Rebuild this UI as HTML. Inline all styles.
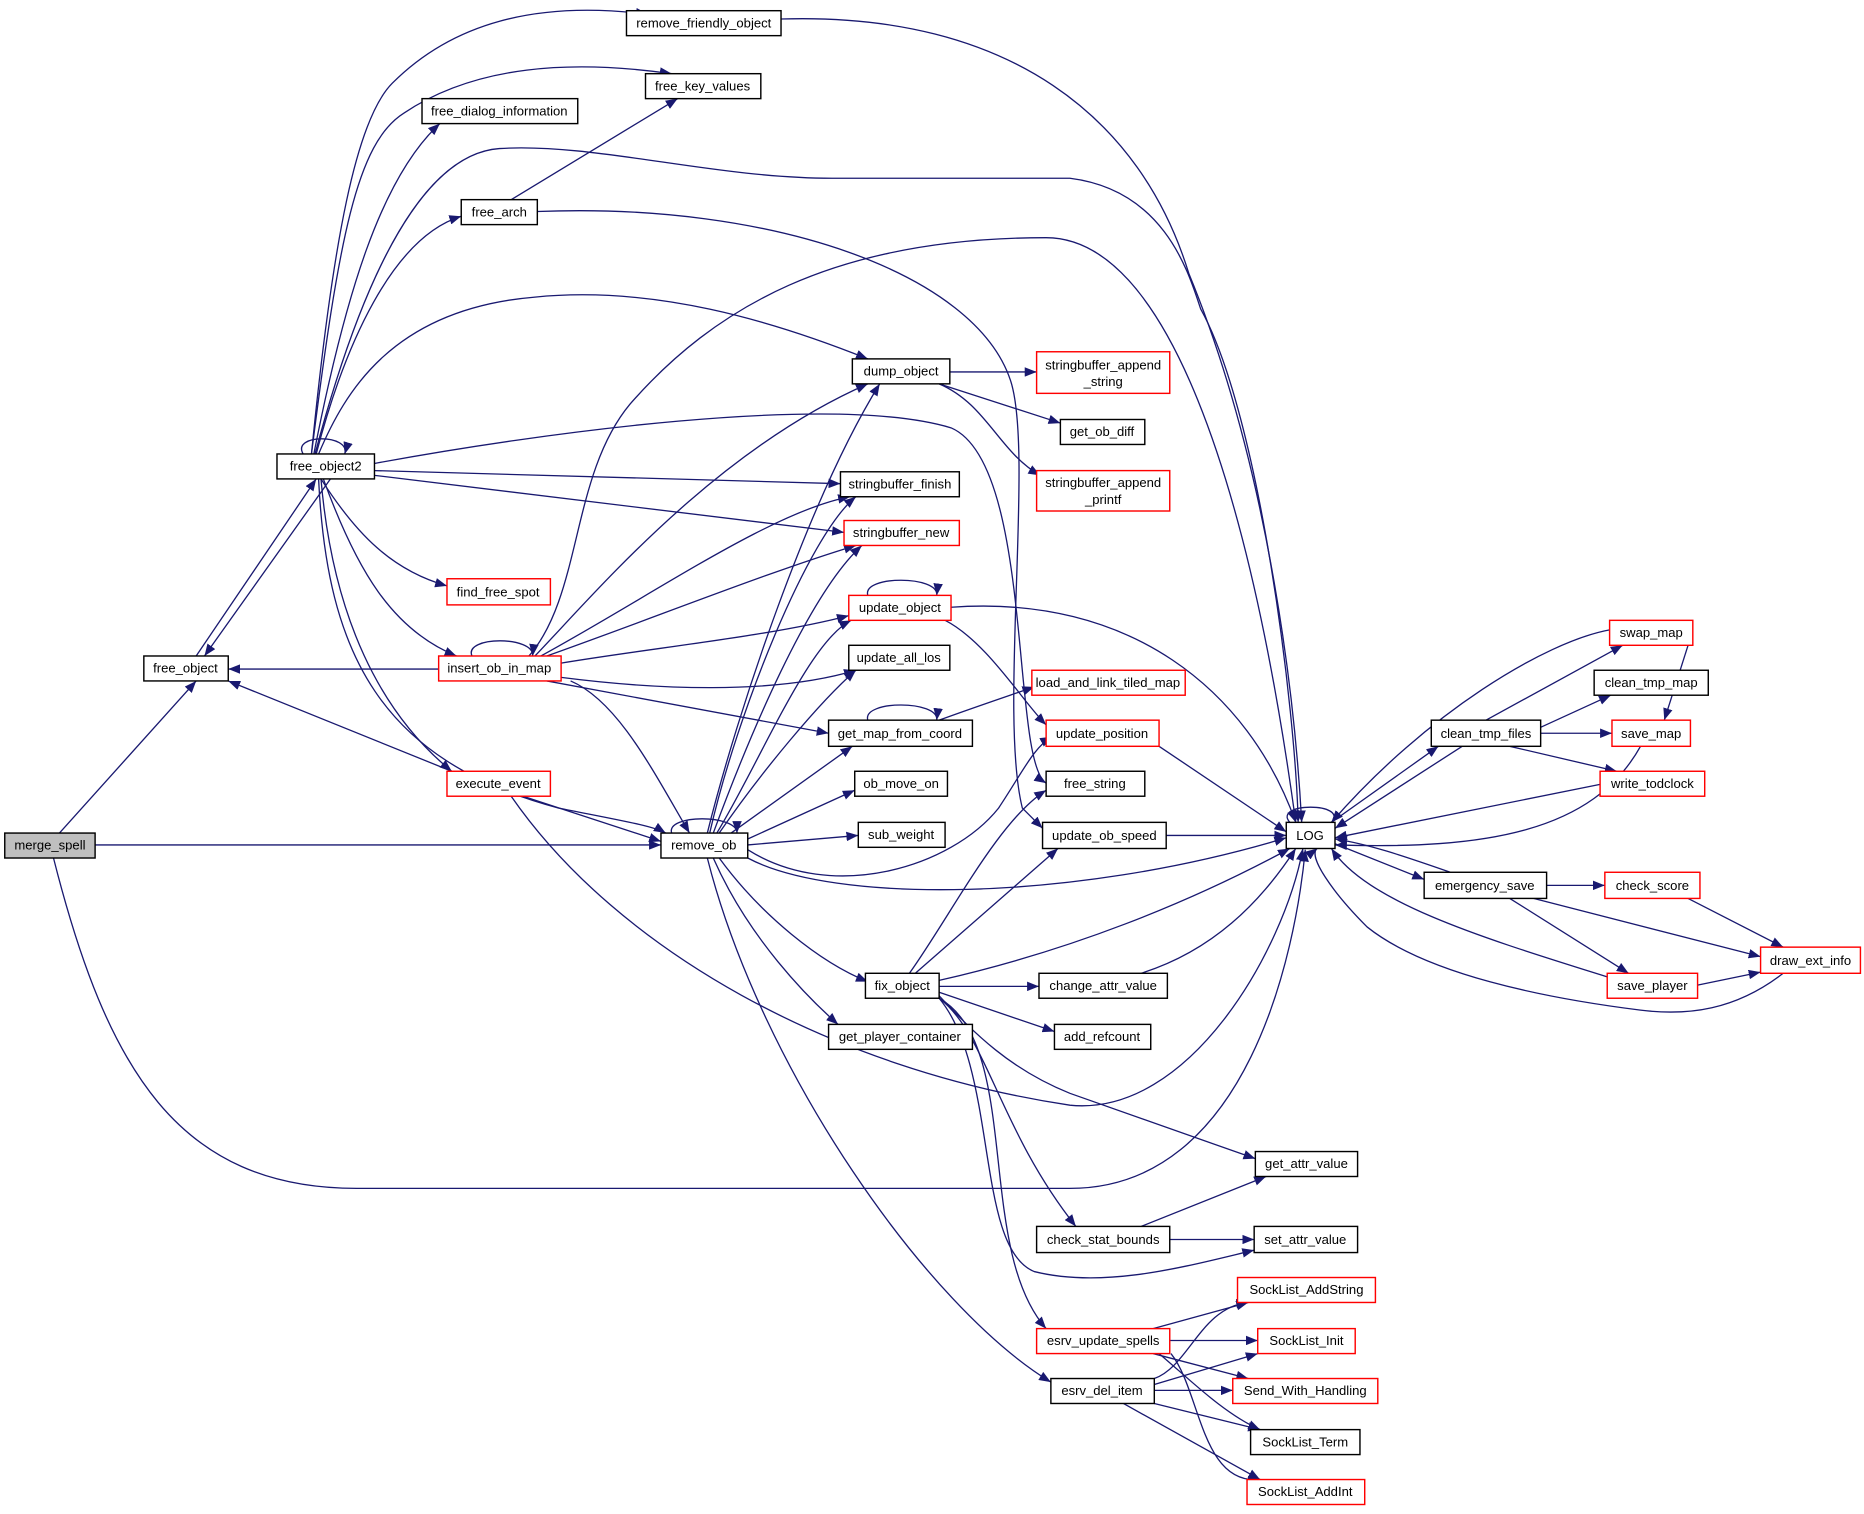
<!DOCTYPE html>
<html><head><meta charset="utf-8"><style>
html,body{margin:0;padding:0;background:#fff}
svg{display:block}
text{font-family:"Liberation Sans",sans-serif;font-size:11px;fill:#000}
</style></head><body>
<svg width="1864" height="1514" viewBox="0 0 1568 1274" preserveAspectRatio="none" xmlns="http://www.w3.org/2000/svg">
<defs><marker id="a" markerWidth="10" markerHeight="8" refX="10" refY="4" orient="auto" markerUnits="userSpaceOnUse"><path d="M0,0 L10,4 L0,8 z" fill="#191970"/></marker></defs>
<g fill="none" stroke="#191970" stroke-width="1.1" marker-end="url(#a)">
<path d="M50,701 L165,573"/>
<path d="M80,711 L556,711"/>
<path d="M45,722 C90,900 150,1000 300,1000 L900,1000 C1050,1000 1090,800 1098,715"/>
<path d="M165,552 L266,403"/>
<path d="M278,403 L172,552"/>
<path d="M369,563 L192,563"/>
<path d="M380,649 L192,573"/>
<path d="M262,382 C280,200 300,100 330,70 C380,20 450,0 545,12"/>
<path d="M262,382 C285,200 300,120 340,95 C400,55 480,50 565,62"/>
<path d="M264,382 C290,250 320,150 370,104"/>
<path d="M265,382 C300,250 350,130 420,125 C500,120 600,150 700,150 L900,150 C980,160 1000,230 1010,260 C1060,350 1090,600 1092,692"/>
<path d="M266,382 C290,290 330,200 388,182"/>
<path d="M268,382 C290,330 330,260 450,250 C550,240 650,270 730,302"/>
<path d="M315,390 C450,365 700,330 800,360 C870,390 850,640 880,659"/>
<path d="M315,396 L707,407"/>
<path d="M315,400 L710,448"/>
<path d="M270,403 C300,450 330,480 376,493"/>
<path d="M272,403 C300,480 330,530 384,552"/>
<path d="M270,403 C280,520 320,600 380,649"/>
<path d="M268,403 C275,550 320,640 470,680 C520,690 550,695 560,701"/>
<path d="M255,382 C245,365 295,365 290,382"/>
<path d="M397,552 C390,535 450,535 448,552"/>
<path d="M445,552 C490,500 480,400 530,340 C600,260 700,200 880,200 C980,200 1050,400 1090,692"/>
<path d="M450,552 C500,500 600,380 730,323"/>
<path d="M455,552 C550,500 650,430 715,418"/>
<path d="M460,552 C550,520 650,480 720,459"/>
<path d="M472,558 C550,545 650,535 714,518"/>
<path d="M472,570 C550,580 650,585 720,564"/>
<path d="M460,573 L697,617"/>
<path d="M480,573 C520,590 550,650 580,701"/>
<path d="M565,701 C560,685 620,685 620,701"/>
<path d="M440,670 L556,708"/>
<path d="M430,670 C520,800 700,900 900,930 C1000,940 1080,800 1096,714"/>
<path d="M595,701 C620,600 680,420 740,323"/>
<path d="M597,701 C620,600 680,450 720,418"/>
<path d="M600,701 C630,620 680,500 725,459"/>
<path d="M603,701 C640,640 680,540 716,522"/>
<path d="M605,701 C640,650 690,590 720,564"/>
<path d="M615,701 L717,628"/>
<path d="M629,706 L719,665"/>
<path d="M629,711 L722,703"/>
<path d="M629,715 C700,760 800,730 840,680 C860,650 870,628 885,620"/>
<path d="M629,722 C700,760 900,760 1082,705"/>
<path d="M605,722 C640,770 690,810 730,826"/>
<path d="M600,722 C630,790 680,840 705,862"/>
<path d="M595,722 C640,900 780,1100 884,1163"/>
<path d="M730,501 C725,484 790,484 788,501"/>
<path d="M800,511 C950,500 1050,580 1090,692"/>
<path d="M795,522 C830,540 860,590 880,610"/>
<path d="M730,606 C725,589 790,589 788,606"/>
<path d="M790,606 C820,595 850,585 870,578"/>
<path d="M799,313 L872,313"/>
<path d="M790,323 L892,356"/>
<path d="M790,323 C830,340 840,380 875,400"/>
<path d="M430,168 L570,83"/>
<path d="M452,178 C650,170 820,230 850,320 C870,380 840,600 860,680 L877,697"/>
<path d="M657,16 C850,10 960,100 1000,230 C1070,400 1090,600 1095,692"/>
<path d="M975,628 L1082,700"/>
<path d="M981,703 L1082,703"/>
<path d="M770,819 L890,714"/>
<path d="M765,819 C800,770 840,690 880,665"/>
<path d="M790,825 C900,800 1000,760 1085,714"/>
<path d="M790,830 L874,830"/>
<path d="M790,835 L887,868"/>
<path d="M790,838 C820,870 850,900 900,920 L1056,975"/>
<path d="M790,840 C830,870 840,950 905,1032"/>
<path d="M790,840 C840,900 820,1050 870,1070 C930,1085 1000,1065 1055,1052"/>
<path d="M790,840 C860,880 820,1050 880,1118"/>
<path d="M960,819 C1020,800 1060,760 1090,714"/>
<path d="M960,1032 L1065,990"/>
<path d="M984,1043 L1055,1043"/>
<path d="M970,1118 L1050,1096"/>
<path d="M984,1128 L1058,1128"/>
<path d="M970,1139 L1050,1160"/>
<path d="M975,1139 C1000,1160 1030,1190 1060,1203"/>
<path d="M985,1139 C1010,1170 1010,1250 1060,1245"/>
<path d="M971,1160 C1000,1150 1010,1100 1050,1096"/>
<path d="M971,1165 L1058,1139"/>
<path d="M971,1170 L1037,1170"/>
<path d="M971,1181 L1060,1203"/>
<path d="M945,1181 L1060,1245"/>
<path d="M1085,692 C1070,675 1135,675 1120,692"/>
<path d="M1123,710 L1198,740"/>
<path d="M1220,734 C1180,720 1150,710 1123,706"/>
<path d="M1301,745 L1350,745"/>
<path d="M1290,756 L1481,805"/>
<path d="M1270,756 L1370,819"/>
<path d="M1420,756 L1500,797"/>
<path d="M1428,829 L1481,818"/>
<path d="M1352,822 C1250,790 1150,760 1120,714"/>
<path d="M1500,819 C1460,850 1420,855 1380,850 C1300,840 1200,820 1150,780 C1120,750 1100,720 1108,714"/>
<path d="M1120,692 L1210,628"/>
<path d="M1230,628 L1123,697"/>
<path d="M1250,606 L1365,543"/>
<path d="M1296,612 L1355,585"/>
<path d="M1296,617 L1356,617"/>
<path d="M1270,628 L1360,649"/>
<path d="M1354,530 C1300,540 1200,600 1120,692"/>
<path d="M1420,543 L1400,606"/>
<path d="M1346,660 L1123,705"/>
<path d="M1380,628 C1340,700 1250,715 1123,711"/>
</g>
<g stroke-width="1.2" text-anchor="middle">
<g stroke="#000" fill="#fff">
<rect x="4" y="701" width="76" height="21" fill="#bfbfbf"/>
<rect x="121" y="552" width="71" height="21"/>
<rect x="233" y="382" width="82" height="21"/>
<rect x="527" y="9" width="130" height="21"/>
<rect x="543" y="62" width="97" height="21"/>
<rect x="355" y="83" width="131" height="21"/>
<rect x="388" y="168" width="64" height="21"/>
<rect x="556" y="701" width="73" height="21"/>
<rect x="717" y="302" width="82" height="21"/>
<rect x="707" y="397" width="100" height="21"/>
<rect x="714" y="543" width="85" height="21"/>
<rect x="697" y="606" width="121" height="22"/>
<rect x="719" y="649" width="78" height="21"/>
<rect x="722" y="692" width="73" height="21"/>
<rect x="728" y="819" width="62" height="21"/>
<rect x="697" y="862" width="121" height="21"/>
<rect x="884" y="1160" width="87" height="21"/>
<rect x="892" y="353" width="71" height="21"/>
<rect x="880" y="649" width="83" height="21"/>
<rect x="877" y="692" width="104" height="22"/>
<rect x="874" y="819" width="108" height="21"/>
<rect x="887" y="862" width="81" height="21"/>
<rect x="1056" y="969" width="86" height="21"/>
<rect x="872" y="1032" width="112" height="22"/>
<rect x="1055" y="1032" width="87" height="22"/>
<rect x="1052" y="1203" width="92" height="21"/>
<rect x="1082" y="692" width="41" height="22"/>
<rect x="1198" y="734" width="103" height="22"/>
<rect x="1341" y="564" width="96" height="21"/>
<rect x="1204" y="606" width="92" height="22"/>
</g>
<g stroke="#f00" fill="#fff">
<rect x="376" y="487" width="87" height="22"/>
<rect x="369" y="552" width="103" height="21"/>
<rect x="376" y="649" width="87" height="21"/>
<rect x="710" y="438" width="97" height="21"/>
<rect x="714" y="501" width="86" height="21"/>
<rect x="872" y="296" width="112" height="35"/>
<rect x="872" y="396" width="112" height="34"/>
<rect x="868" y="564" width="129" height="21"/>
<rect x="880" y="606" width="95" height="22"/>
<rect x="872" y="1118" width="112" height="21"/>
<rect x="1041" y="1075" width="116" height="21"/>
<rect x="1058" y="1118" width="82" height="21"/>
<rect x="1037" y="1160" width="122" height="21"/>
<rect x="1049" y="1245" width="99" height="21"/>
<rect x="1350" y="734" width="80" height="22"/>
<rect x="1481" y="797" width="84" height="22"/>
<rect x="1352" y="819" width="76" height="21"/>
<rect x="1354" y="522" width="70" height="21"/>
<rect x="1356" y="606" width="66" height="22"/>
<rect x="1346" y="649" width="88" height="21"/>
</g>
<text x="42" y="715">merge_spell</text>
<text x="156" y="566">free_object</text>
<text x="274" y="396">free_object2</text>
<text x="592" y="23">remove_friendly_object</text>
<text x="591" y="76">free_key_values</text>
<text x="420" y="97">free_dialog_information</text>
<text x="420" y="182">free_arch</text>
<text x="592" y="715">remove_ob</text>
<text x="758" y="316">dump_object</text>
<text x="757" y="411">stringbuffer_finish</text>
<text x="756" y="557">update_all_los</text>
<text x="757" y="621">get_map_from_coord</text>
<text x="758" y="663">ob_move_on</text>
<text x="758" y="706">sub_weight</text>
<text x="759" y="833">fix_object</text>
<text x="757" y="876">get_player_container</text>
<text x="927" y="1174">esrv_del_item</text>
<text x="927" y="367">get_ob_diff</text>
<text x="921" y="663">free_string</text>
<text x="929" y="707">update_ob_speed</text>
<text x="928" y="833">change_attr_value</text>
<text x="927" y="876">add_refcount</text>
<text x="1099" y="983">get_attr_value</text>
<text x="928" y="1047">check_stat_bounds</text>
<text x="1098" y="1047">set_attr_value</text>
<text x="1098" y="1217">SockList_Term</text>
<text x="1102" y="707">LOG</text>
<text x="1249" y="749">emergency_save</text>
<text x="1389" y="578">clean_tmp_map</text>
<text x="1250" y="621">clean_tmp_files</text>
<text x="419" y="502">find_free_spot</text>
<text x="420" y="566">insert_ob_in_map</text>
<text x="419" y="663">execute_event</text>
<text x="758" y="452">stringbuffer_new</text>
<text x="757" y="515">update_object</text>
<text x="928" y="311">stringbuffer_append</text>
<text x="928" y="325">_string</text>
<text x="928" y="410">stringbuffer_append</text>
<text x="928" y="424">_printf</text>
<text x="932" y="578">load_and_link_tiled_map</text>
<text x="927" y="621">update_position</text>
<text x="928" y="1132">esrv_update_spells</text>
<text x="1099" y="1089">SockList_AddString</text>
<text x="1099" y="1132">SockList_Init</text>
<text x="1098" y="1174">Send_With_Handling</text>
<text x="1098" y="1259">SockList_AddInt</text>
<text x="1390" y="749">check_score</text>
<text x="1523" y="812">draw_ext_info</text>
<text x="1390" y="833">save_player</text>
<text x="1389" y="536">swap_map</text>
<text x="1389" y="621">save_map</text>
<text x="1390" y="663">write_todclock</text>
</g>
</svg>
</body></html>
